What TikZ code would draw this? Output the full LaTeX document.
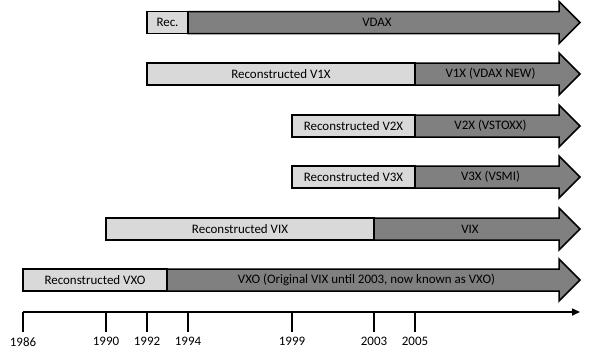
\documentclass[tikz,border=0pt]{standalone}
\usepackage{fontspec}
\setmainfont{Carlito}
\usepackage{xcolor}
\usetikzlibrary{arrows.meta,calc,positioning}
\definecolor{recgray}{RGB}{217,217,217}
\definecolor{idxgray}{RGB}{128,128,128}

\begin{document}
\begin{tikzpicture}[x=1bp,y=-1bp,
    recbar/.style={draw=black,line width=1.5bp,fill=recgray},
    idxbar/.style={draw=black,line width=1.5bp,fill=idxgray,line join=miter},
    barlabel/.style={font=\fontsize{13}{15}\selectfont,inner sep=0pt},
    yearlabel/.style={font=\fontsize{13}{15}\selectfont,below,inner sep=0pt}]
  \useasboundingbox (0,0) rectangle (600,359);
  % bars: row / y centre / start / switch / reconstructed / index
  \foreach \n/\yc/\xs/\xe/\rec/\idx in {
      1/22.5/147/188/{Rec.}/{VDAX},
      2/74/147/415/{Reconstructed V1X}/{V1X (VDAX NEW)},
      3/126/292/415/{Reconstructed V2X}/{V2X (VSTOXX)},
      4/177/292/415/{Reconstructed V3X}/{V3X (VSMI)},
      5/229/106/374/{Reconstructed VIX}/{VIX},
      6/280/23/167/{Reconstructed VXO}/{VXO (Original VIX until 2003, now known as VXO)}}{
    \draw[idxbar] (\xe,\yc-11) -- (559,\yc-11) -- (559,\yc-21) -- (580,\yc)
      -- (559,\yc+21) -- (559,\yc+11) -- (\xe,\yc+11) -- cycle;
    \draw[recbar] (\xs,\yc-11) rectangle (\xe,\yc+11);
    \node[barlabel] (rec\n) at ({(\xs+\xe)/2},\yc) {\rec};
    \node[barlabel] (idx\n) at ({(\xe+566)/2},\yc) {\idx};
  }
  % time axis
  \draw[line width=1.5bp,-{Triangle[length=8bp,width=7bp]}] (23,312) -- (580,312);
  \foreach \yr/\xt in {1986/23,1990/106,1992/147,1994/188,1999/292,2003/374,2005/415}{
    \draw[line width=1.2bp] (\xt,312) -- (\xt,332);
    \node[yearlabel] (y\yr) at (\xt,337) {\yr};
  }
\end{tikzpicture}
\end{document}
